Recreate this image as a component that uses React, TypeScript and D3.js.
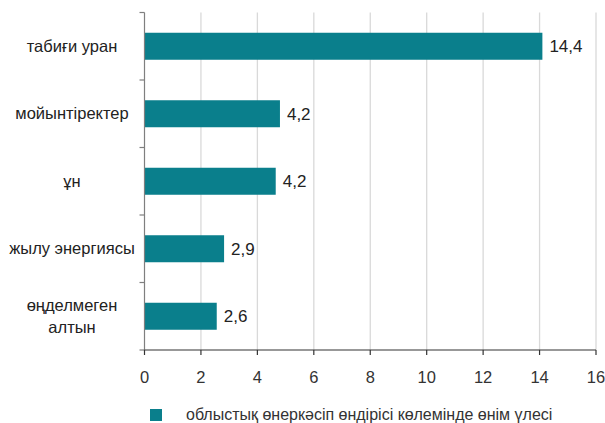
import React from "react";
import * as d3 from "d3";

const categories = ["табиғи уран", "мойынтіректер", "ұн", "жылу энергиясы", "өңделмеген алтын"];
const categoryLines = [["табиғи уран"], ["мойынтіректер"], ["ұн"], ["жылу энергиясы"], ["өңделмеген", "алтын"]];
const barValues = [14.1, 4.8, 4.65, 2.82, 2.56];
const valueLabels = ["14,4", "4,2", "4,2", "2,9", "2,6"];
const xTicks = [0, 2, 4, 6, 8, 10, 12, 14, 16];
const legendLabel = "облыстық өнеркәсіп өндірісі көлемінде өнім үлесі";

const W = 605, H = 423;
const left = 144.5, right = 596, top = 12.5, bottom = 350;
const color = "#0a7f8c";
const font = "'Liberation Sans', Arial, sans-serif";

export default function App() {
  const x = d3.scaleLinear().domain([0, 16]).range([left, right]);
  const y = d3.scaleBand<string>().domain(categories).range([top, bottom]).paddingInner(0.6).paddingOuter(0.3);
  const step = (bottom - top) / categories.length;
  const catTicks = d3.range(categories.length + 1).map((i) => top + i * step);
  return (
    <svg width={W} height={H} style={{ position: "absolute", left: 0, top: 0, background: "#fff" }}>
      {xTicks.slice(1).map((t) => (
        <line key={"g" + t} x1={x(t)} x2={x(t)} y1={top} y2={bottom} stroke="#d9d9d9" strokeWidth={1.3} />
      ))}
      {categories.map((c, i) => (
        <rect key={c} x={x(0)} y={y(c)} width={x(barValues[i]) - x(0)} height={y.bandwidth()} fill={color} />
      ))}
      <line x1={left} x2={left} y1={top} y2={bottom} stroke="#7f7f7f" strokeWidth={1.2} />
      {catTicks.map((t, i) => (
        <line key={"ct" + i} x1={left - 5} x2={left} y1={t} y2={t} stroke="#7f7f7f" strokeWidth={1.2} />
      ))}
      <line x1={left} x2={right} y1={bottom} y2={bottom} stroke="#333" strokeWidth={1.2} />
      {xTicks.map((t) => (
        <line key={"xt" + t} x1={x(t)} x2={x(t)} y1={bottom} y2={bottom + 5} stroke="#333" strokeWidth={1.2} />
      ))}
      {xTicks.map((t) => (
        <text key={"xl" + t} x={x(t)} y={383} textAnchor="middle" fontFamily={font} fontSize={16.5} fill="#333">
          {t}
        </text>
      ))}
      {categories.map((c, i) => {
        const lines = categoryLines[i];
        const cy = (y(c) as number) + y.bandwidth() / 2;
        const lh = 22;
        return (
          <text key={"cl" + c} textAnchor="middle" fontFamily={font} fontSize={16.5} fill="#222">
            {lines.map((ln, j) => (
              <tspan key={j} x={72} y={cy + 5.5 + (j - (lines.length - 1) / 2) * lh}>
                {ln}
              </tspan>
            ))}
          </text>
        );
      })}
      {categories.map((c, i) => (
        <text key={"vl" + c} x={x(barValues[i]) + 7} y={(y(c) as number) + y.bandwidth() / 2 + 6} fontFamily={font} fontSize={17} fill="#222">
          {valueLabels[i]}
        </text>
      ))}
      <rect x={150} y={409} width={12} height={12} fill={color} />
      <text x={186} y={420} fontFamily={font} fontSize={16} fill="#333">
        {legendLabel}
      </text>
    </svg>
  );
}
